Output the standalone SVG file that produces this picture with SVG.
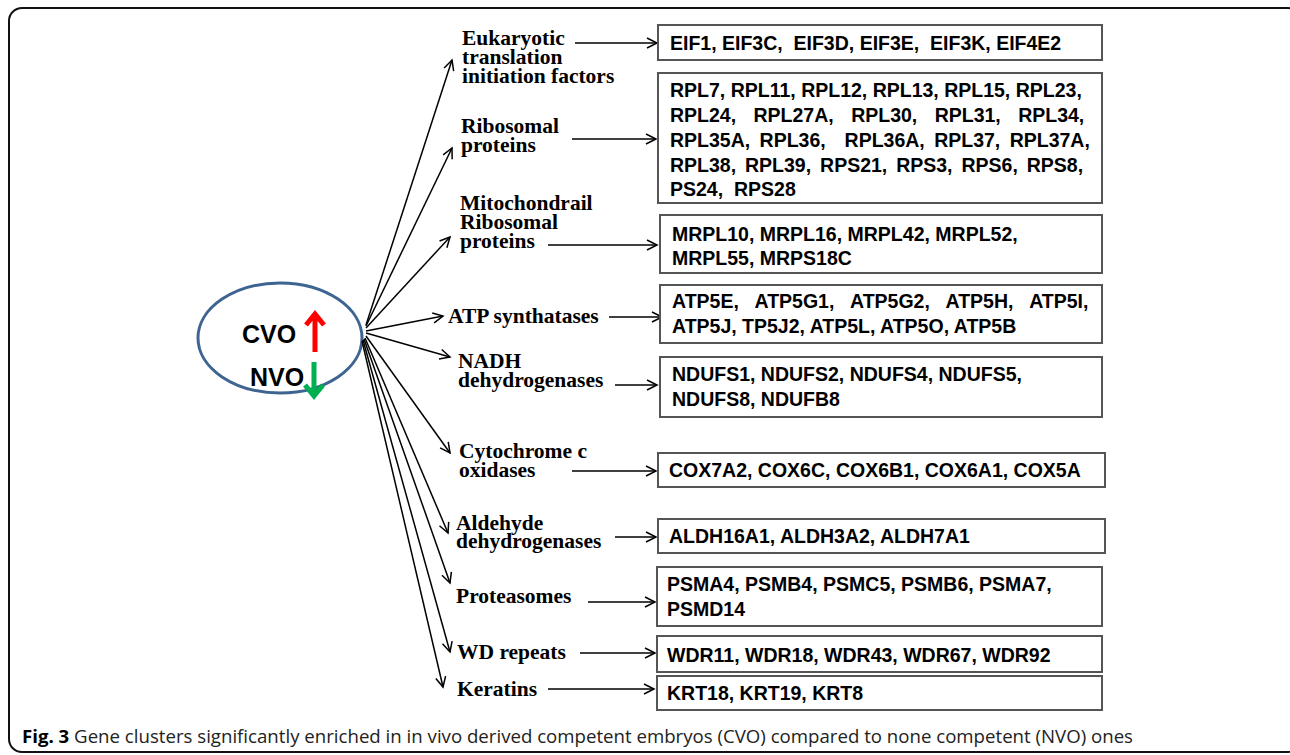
<svg xmlns="http://www.w3.org/2000/svg" width="1290" height="755" viewBox="0 0 1290 755">
<defs>
<marker id="ah" markerUnits="userSpaceOnUse" markerWidth="14" markerHeight="14" refX="11" refY="6" orient="auto" viewBox="0 0 14 12">
<path d="M1,1 L11,6 L1,11" fill="none" stroke="#000" stroke-width="1.5"/>
</marker>
<style>
.lab{font-family:"Liberation Serif","Times New Roman",serif;font-weight:bold;font-size:21.5px;fill:#000}
.gene{font-family:"Liberation Sans",Arial,sans-serif;font-weight:bold;font-size:19.5px;fill:#000}
.box{fill:#fff;stroke:#555;stroke-width:2}
.con{stroke:#000;stroke-width:1.5;fill:none;marker-end:url(#ah)}
.cap{font-family:"Open Sans","Liberation Sans",sans-serif;font-size:18px;fill:#222}
</style>
</defs>
<rect x="0" y="0" width="1290" height="755" fill="#fff"/>
<rect id="frame" x="9" y="8" width="1292" height="744" rx="13" ry="13" fill="none" stroke="#111" stroke-width="2"/>

<g id="center">
<ellipse cx="280" cy="338" rx="82" ry="55" fill="#fff" stroke="#3E6491" stroke-width="3"/>
<text x="242" y="343" font-family="Liberation Sans,Arial,sans-serif" font-weight="bold" font-size="25" fill="#000">CVO</text>
<text x="250" y="386" font-family="Liberation Sans,Arial,sans-serif" font-weight="bold" font-size="25" fill="#000">NVO</text>
<path d="M315,352 L315,315 M306,325 L315,314 L324,325" fill="none" stroke="#FF0000" stroke-width="5"/>
<path d="M314,362 L314,395 M305,385 L314,396 L323,385" fill="none" stroke="#00B050" stroke-width="5"/>
</g>

<g id="connectors">
<line class="con" x1="366" y1="325" x2="452" y2="60"/>
<line class="con" x1="366" y1="326" x2="452" y2="148"/>
<line class="con" x1="366" y1="328" x2="450" y2="237"/>
<line class="con" x1="366" y1="331" x2="443" y2="316"/>
<line class="con" x1="366" y1="333" x2="450" y2="357"/>
<line class="con" x1="366" y1="336" x2="450" y2="453"/>
<line class="con" x1="365" y1="338" x2="448" y2="533"/>
<line class="con" x1="364" y1="339" x2="450" y2="583"/>
<line class="con" x1="363" y1="340" x2="450" y2="652"/>
<line class="con" x1="362" y1="341" x2="443" y2="687"/>

<line class="con" x1="575" y1="43" x2="657" y2="43"/>
<line class="con" x1="572" y1="139" x2="656" y2="139"/>
<line class="con" x1="548" y1="245" x2="657" y2="245"/>
<line class="con" x1="609" y1="317" x2="662" y2="317"/>
<line class="con" x1="615" y1="385" x2="657" y2="385"/>
<line class="con" x1="572" y1="471" x2="656" y2="471"/>
<line class="con" x1="615" y1="537" x2="656" y2="537"/>
<line class="con" x1="588" y1="602" x2="655" y2="602"/>
<line class="con" x1="580" y1="653" x2="655" y2="653"/>
<line class="con" x1="548" y1="689" x2="654" y2="689"/>
</g>

<g id="lab-eif"><text class="lab" x="462" y="45">Eukaryotic</text><text class="lab" x="462" y="64">translation</text><text class="lab" x="462" y="83">initiation factors</text></g>
<g id="lab-rp"><text class="lab" x="461" y="133">Ribosomal</text><text class="lab" x="461" y="152">proteins</text></g>
<g id="lab-mrp"><text class="lab" x="460" y="210">Mitochondrail</text><text class="lab" x="460" y="229">Ribosomal</text><text class="lab" x="460" y="248">proteins</text></g>
<g id="lab-atp"><text class="lab" x="448" y="323">ATP synthatases</text></g>
<g id="lab-nadh"><text class="lab" x="458" y="368">NADH</text><text class="lab" x="458" y="387">dehydrogenases</text></g>
<g id="lab-cox"><text class="lab" x="459" y="458">Cytochrome c</text><text class="lab" x="459" y="477">oxidases</text></g>
<g id="lab-aldh"><text class="lab" x="456" y="530">Aldehyde</text><text class="lab" x="456" y="548">dehydrogenases</text></g>
<g id="lab-psm"><text class="lab" x="456" y="603">Proteasomes</text></g>
<g id="lab-wd"><text class="lab" x="457" y="659">WD repeats</text></g>
<g id="lab-krt"><text class="lab" x="457" y="696">Keratins</text></g>

<g id="box-eif"><rect class="box" x="658" y="25" width="444" height="35"/>
<text class="gene" x="670" y="50" xml:space="preserve">EIF1, EIF3C,  EIF3D, EIF3E,  EIF3K, EIF4E2</text></g>

<g id="box-rp"><rect class="box" x="658" y="73" width="444" height="130"/>
<text class="gene" x="670" y="97">RPL7, RPL11, RPL12, RPL13, RPL15, RPL23,</text>
<text class="gene" x="670" y="122" word-spacing="12">RPL24, RPL27A, RPL30, RPL31, RPL34,</text>
<text class="gene" x="670" y="147" word-spacing="4" xml:space="preserve">RPL35A, RPL36,  RPL36A, RPL37, RPL37A,</text>
<text class="gene" x="670" y="172" word-spacing="3.5">RPL38, RPL39, RPS21, RPS3, RPS6, RPS8,</text>
<text class="gene" x="670" y="196" xml:space="preserve">PS24,  RPS28</text></g>

<g id="box-mrp"><rect class="box" x="660" y="215" width="442" height="58"/>
<text class="gene" x="672" y="241">MRPL10, MRPL16, MRPL42, MRPL52,</text>
<text class="gene" x="672" y="265">MRPL55, MRPS18C</text></g>

<g id="box-atp"><rect class="box" x="660" y="285" width="442" height="58"/>
<text class="gene" x="672" y="308" word-spacing="11">ATP5E, ATP5G1, ATP5G2, ATP5H, ATP5I,</text>
<text class="gene" x="672" y="333">ATP5J, TP5J2, ATP5L, ATP5O, ATP5B</text></g>

<g id="box-nadh"><rect class="box" x="660" y="357" width="442" height="60"/>
<text class="gene" x="672" y="381">NDUFS1, NDUFS2, NDUFS4, NDUFS5,</text>
<text class="gene" x="672" y="406">NDUFS8, NDUFB8</text></g>

<g id="box-cox"><rect class="box" x="658" y="453" width="447" height="34"/>
<text class="gene" x="669" y="477">COX7A2, COX6C, COX6B1, COX6A1, COX5A</text></g>

<g id="box-aldh"><rect class="box" x="658" y="519" width="447" height="34"/>
<text class="gene" x="669" y="543">ALDH16A1, ALDH3A2, ALDH7A1</text></g>

<g id="box-psm"><rect class="box" x="657" y="567" width="445" height="59"/>
<text class="gene" x="667" y="591">PSMA4, PSMB4, PSMC5, PSMB6, PSMA7,</text>
<text class="gene" x="667" y="616">PSMD14</text></g>

<g id="box-wd"><rect class="box" x="657" y="636" width="445" height="36"/>
<text class="gene" x="667" y="662">WDR11, WDR18, WDR43, WDR67, WDR92</text></g>

<g id="box-krt"><rect class="box" x="657" y="676" width="445" height="34"/>
<text class="gene" x="667" y="700">KRT18, KRT19, KRT8</text></g>

<g id="caption"><text class="cap" x="22" y="743" textLength="1111" lengthAdjust="spacingAndGlyphs"><tspan font-weight="bold" fill="#000">Fig. 3</tspan> Gene clusters significantly enriched in in vivo derived competent embryos (CVO) compared to none competent (NVO) ones</text></g>
</svg>
